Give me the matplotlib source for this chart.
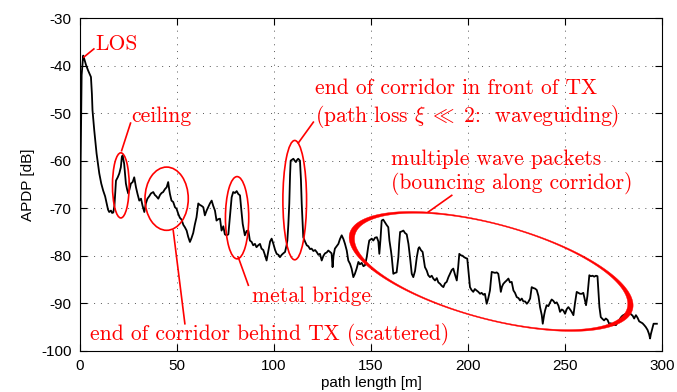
import numpy as np
import matplotlib
matplotlib.use("Agg")
import matplotlib.pyplot as plt
from matplotlib.patches import Ellipse, PathPatch
from matplotlib.path import Path

plt.rcParams['axes.unicode_minus'] = False
plt.rcParams['mathtext.fontset'] = 'cm'

## averaged power delay profile, read along the corridor
path_m = [0.0, 0.4, 0.9, 1.7, 2.4, 3.1, 4.2, 5.7, 6.2, 6.5, 7.4, 8.6, 10.0, 11.0, 12.0, 13.0,
          13.8, 14.5, 15.1, 16.0, 16.6, 17.2, 17.8, 18.6, 19.5, 20.3, 21.1, 21.6, 22.0, 22.8,
          23.7, 24.3, 24.9, 25.6, 26.3, 27.2, 28.0, 28.9, 29.7, 30.6, 31.5, 32.3, 33.2, 34.0,
          34.8, 35.7, 36.6, 37.8, 38.6, 39.4, 40.4, 41.3, 42.1, 42.9, 43.8, 44.7, 45.5, 46.0,
          46.4, 47.2, 48.1, 49.0, 49.8, 50.7, 51.5, 52.4, 53.3, 54.1, 55.0, 55.8, 56.7, 57.5,
          58.4, 59.2, 60.1, 61.0, 61.8, 62.7, 63.6, 64.4, 65.3, 66.1, 67.0, 67.9, 68.7, 69.6,
          70.4, 71.3, 72.2, 73.0, 73.9, 74.7, 75.6, 76.5, 77.3, 78.2, 79.0, 79.9, 80.8, 81.6,
          82.5, 83.1, 83.9, 85.0, 85.9, 86.8, 87.6, 88.5, 89.3, 90.2, 91.0, 91.9, 92.8, 93.6,
          94.5, 95.4, 96.2, 97.1, 98.0, 98.8, 99.7, 100.6, 101.4, 102.3, 103.1, 104.0, 104.8,
          105.7, 106.5, 106.9, 107.4, 107.9, 108.3, 108.6, 109.3, 110.0, 110.7, 111.3, 112.0,
          112.5, 113.4, 113.9, 114.3, 115.1, 116.0, 116.9, 117.7, 118.6, 119.4, 120.3, 121.2,
          122.0, 122.9, 123.7, 124.6, 125.5, 126.3, 127.2, 128.0, 128.9, 129.7, 130.2, 130.7,
          131.4, 132.3, 133.2, 134.0, 134.9, 135.8, 136.6, 137.5, 138.3, 139.2, 140.0, 140.9,
          141.7, 142.6, 143.5, 144.3, 145.2, 146.1, 146.9, 147.8, 148.6, 149.1, 150.4, 151.2,
          152.1, 153.0, 153.8, 154.3, 154.9, 155.5, 156.3, 157.2, 158.0, 158.9, 159.5, 160.3,
          160.7, 161.5, 162.4, 163.2, 164.1, 164.5, 165.0, 165.8, 166.7, 167.5, 168.4, 169.3,
          170.1, 171.0, 171.8, 172.7, 173.6, 174.4, 174.9, 175.7, 176.6, 177.8, 178.7, 179.5,
          180.4, 181.3, 182.1, 183.0, 183.9, 184.7, 185.6, 186.4, 187.3, 188.1, 189.0, 189.9,
          190.7, 191.6, 192.4, 193.3, 194.2, 194.9, 195.5, 196.3, 197.2, 198.0, 198.9, 199.6,
          200.3, 201.0, 201.8, 202.7, 203.5, 204.4, 205.3, 206.2, 207.0, 207.9, 208.7, 209.6,
          210.4, 211.3, 211.8, 212.2, 213.0, 213.9, 214.8, 215.6, 216.4, 216.9, 217.5, 218.2,
          219.1, 219.9, 220.8, 221.6, 222.5, 223.4, 224.2, 225.1, 226.0, 226.8, 227.7, 228.5,
          229.4, 230.3, 231.1, 232.0, 232.8, 233.7, 234.5, 235.4, 236.3, 237.1, 238.0, 238.5,
          239.2, 239.7, 240.5, 241.4, 242.3, 243.1, 244.0, 244.8, 245.7, 246.6, 247.4, 248.3,
          249.1, 250.0, 250.9, 251.7, 252.6, 253.4, 254.3, 255.1, 256.0, 256.9, 257.7, 258.6,
          259.4, 260.3, 260.8, 261.5, 262.5, 263.3, 264.2, 265.0, 265.9, 266.7, 267.2, 267.7,
          268.4, 269.3, 270.1, 271.0, 271.9, 272.7, 273.6, 274.4, 275.3, 276.2, 277.0, 277.9,
          278.7, 279.6, 280.5, 281.3, 282.2, 283.0, 283.9, 284.8, 285.6, 286.5, 287.3, 288.2,
          289.0, 289.9, 290.8, 291.6, 292.5, 293.3, 293.8, 294.2, 294.7, 295.6, 296.4, 297.3]

apdp_db = [-92.0, -60.0, -42.0, -37.9, -38.8, -39.8, -41.0, -42.4, -46.0, -49.4, -53.6, -58.5,
           -62.7, -64.8, -66.3, -67.5, -69.0, -70.3, -70.8, -70.5, -71.0, -70.9, -69.5, -64.2,
           -63.5, -62.7, -61.4, -59.3, -58.9, -60.6, -64.8, -66.0, -66.9, -66.0, -64.8, -64.5,
           -63.5, -65.6, -67.0, -68.4, -68.0, -69.5, -70.8, -69.0, -68.0, -67.5, -66.9, -66.6,
           -67.2, -67.5, -68.0, -67.2, -66.8, -66.6, -66.0, -65.6, -64.5, -66.0, -67.0, -68.4,
           -68.7, -69.8, -70.1, -71.2, -72.0, -72.4, -73.5, -74.0, -74.7, -76.0, -77.1, -76.3,
           -75.2, -73.5, -71.9, -69.0, -69.3, -69.5, -69.8, -71.5, -70.5, -69.8, -69.0, -68.4,
           -69.5, -70.5, -72.6, -72.3, -72.2, -74.7, -73.8, -75.5, -75.7, -75.5, -71.9, -67.7,
           -66.6, -66.8, -66.4, -67.0, -67.3, -70.0, -73.3, -75.7, -74.8, -74.7, -76.8, -77.1,
           -77.8, -77.5, -78.2, -77.8, -77.5, -78.5, -78.8, -79.9, -81.0, -79.0, -77.0, -76.4,
           -77.5, -78.8, -79.6, -79.8, -80.3, -79.8, -79.5, -79.2, -77.8, -76.8, -73.5, -69.0,
           -63.0, -60.0, -59.8, -59.6, -60.0, -60.3, -59.8, -59.6, -60.0, -64.0, -69.0, -76.1,
           -77.0, -77.8, -78.0, -78.6, -78.5, -79.0, -78.8, -79.2, -79.8, -79.6, -81.0, -80.0,
           -79.5, -79.3, -78.9, -79.2, -79.5, -82.4, -80.0, -78.5, -78.0, -77.5, -76.5, -75.7,
           -76.5, -77.5, -78.9, -81.0, -81.7, -82.7, -84.5, -83.8, -82.7, -81.3, -81.8, -81.5,
           -82.2, -82.0, -80.3, -78.0, -76.8, -76.4, -76.8, -76.2, -76.1, -77.0, -79.6, -76.5,
           -72.6, -72.4, -73.0, -73.5, -74.0, -76.8, -79.0, -80.3, -83.8, -83.6, -83.5, -80.3,
           -77.5, -75.0, -74.9, -74.7, -75.2, -75.5, -77.5, -80.3, -83.8, -84.5, -83.2, -80.3,
           -78.5, -78.2, -78.8, -79.2, -82.4, -83.1, -84.1, -84.5, -84.2, -84.8, -85.2, -84.7,
           -85.6, -85.9, -86.3, -86.6, -85.8, -85.5, -84.5, -83.8, -83.0, -82.7, -84.0, -85.2,
           -82.5, -79.6, -79.9, -80.0, -80.3, -80.5, -80.6, -83.5, -86.6, -87.2, -87.6, -87.0,
           -87.3, -87.6, -88.0, -87.8, -88.2, -88.0, -90.1, -89.0, -87.3, -85.0, -83.4, -83.5,
           -83.6, -83.5, -83.8, -86.0, -87.6, -86.5, -85.9, -85.5, -85.2, -84.8, -85.6, -85.5,
           -87.3, -87.8, -88.7, -88.9, -89.4, -89.0, -89.6, -89.6, -90.1, -89.7, -89.0, -86.6,
           -86.8, -86.9, -87.2, -88.5, -90.8, -92.5, -94.3, -92.5, -91.5, -90.4, -90.6, -89.8,
           -89.2, -89.5, -90.0, -89.8, -90.5, -91.8, -91.3, -91.5, -92.2, -91.2, -90.8, -91.3,
           -91.8, -92.5, -90.0, -87.6, -87.8, -88.0, -88.0, -87.8, -89.5, -90.4, -88.5, -84.1,
           -84.3, -84.2, -84.4, -84.2, -84.3, -87.5, -90.8, -92.9, -93.3, -93.6, -93.2, -93.5,
           -94.3, -94.2, -94.6, -94.5, -94.6, -94.0, -93.6, -93.0, -92.6, -92.4, -92.2, -92.0,
           -91.8, -92.3, -92.6, -93.2, -92.5, -93.0, -93.8, -94.0, -94.2, -94.6, -95.0, -95.6,
           -96.5, -97.4, -96.5, -95.7, -94.3, -94.3, -94.3]

x_ticks = [0, 50, 100, 150, 200, 250, 300]
y_ticks = [-100, -90, -80, -70, -60, -50, -40, -30]

RED = '#ff0000'
SERIF = 'cmr10'
TXT = 15.5

fig = plt.figure(figsize=(6.77, 3.92), dpi=100)
ax = fig.add_axes([0.118, 0.105, 0.860, 0.849])
ax.plot(path_m, apdp_db, color='black', lw=1.3, zorder=3)

ax.set_xlim(0, 300)
ax.set_ylim(-100, -30)
ax.set_xticks(x_ticks)
ax.set_yticks(y_ticks)
ax.grid(True, color='#555555', linestyle=(0, (1, 6)), lw=0.7)
ax.tick_params(direction='in', length=5, top=True, right=True, labelsize=11, pad=6)
for lab in ax.get_xticklabels() + ax.get_yticklabels():
    lab.set_fontfamily('Liberation Sans')
ax.set_xlabel('path length [m]', fontsize=11, family='Liberation Sans', labelpad=2)
ax.set_ylabel('APDP [dB]', fontsize=11, family='Liberation Sans', labelpad=4)

# plain ellipses around the single features
def ring(cx, cy, w, h):
    ax.add_patch(Ellipse((cx, cy), w, h, fill=False, ec=RED, lw=1.2, zorder=4))

ring(21.1, -65.2, 8.6, 13.7)
ring(44.7, -68.0, 22.3, 13.3)
ring(81.0, -72.0, 12.0, 17.3)
ring(110.7, -68.3, 12.2, 25.1)

# big tilted ellipse, drawn in pixel units so the tilt survives the axis scaling
p0 = ax.transData.transform((0, 0))
p1 = ax.transData.transform((1, 1))
sx, sy = p1 - p0

def ellipse_pts(cx, cy, a, b, ang, n=200):
    t = np.linspace(0, 2 * np.pi, n)
    c, s = np.cos(np.radians(ang)), np.sin(np.radians(ang))
    px = a * np.cos(t) * c - b * np.sin(t) * s
    py = a * np.cos(t) * s + b * np.sin(t) * c
    return np.column_stack([cx + px / sx, cy + py / sy])

outer = ellipse_pts(211.9, -83.3, 146.5, 47.9, -15.1)
inner = ellipse_pts(211.9, -83.3, 141.0, 46.8, -15.1)[::-1]
band = Path.make_compound_path(Path(outer, closed=True), Path(inner, closed=True))
ax.add_patch(PathPatch(band, fc=RED, ec=RED, lw=0.3, zorder=4))

# leader lines
leaders = [((2.1, -38.2), (7.2, -36.5)),
           ((21.5, -57.9), (26.1, -52.1)),
           ((48.1, -74.7), (54.1, -94.3)),
           ((81.6, -80.3), (86.8, -86.2)),
           ((112.5, -56.3), (120.3, -51.9)),
           ((179.5, -70.8), (191.6, -67.3))]
for (xa, ya), (xb, yb) in leaders:
    ax.plot([xa, xb], [ya, yb], color=RED, lw=1.2, zorder=4)

ax.text(8.2, -36.7, 'LOS', color=RED, family=SERIF, fontsize=TXT, va='baseline')
ax.text(26.6, -51.9, 'ceiling', color=RED, family=SERIF, fontsize=TXT, va='baseline')
ax.text(88.5, -89.7, 'metal bridge', color=RED, family=SERIF, fontsize=TXT, va='baseline')
ax.text(5.2, -97.8, 'end of corridor behind TX (scattered)', color=RED, family=SERIF,
        fontsize=TXT, va='baseline')
ax.text(121.1, -45.9, 'end of corridor in front of TX', color=RED, family=SERIF,
        fontsize=TXT, va='baseline')
ax.text(121.1, -51.8, r'(path loss $\xi\;\ll\;2$:  waveguiding)', color=RED, family=SERIF,
        fontsize=TXT, va='baseline')
ax.text(160.3, -61.0, 'multiple wave packets', color=RED, family=SERIF, fontsize=TXT,
        va='baseline')
ax.text(160.3, -65.9, '(bouncing along corridor)', color=RED, family=SERIF, fontsize=TXT,
        va='baseline')

fig.savefig('out.png', dpi=100)
